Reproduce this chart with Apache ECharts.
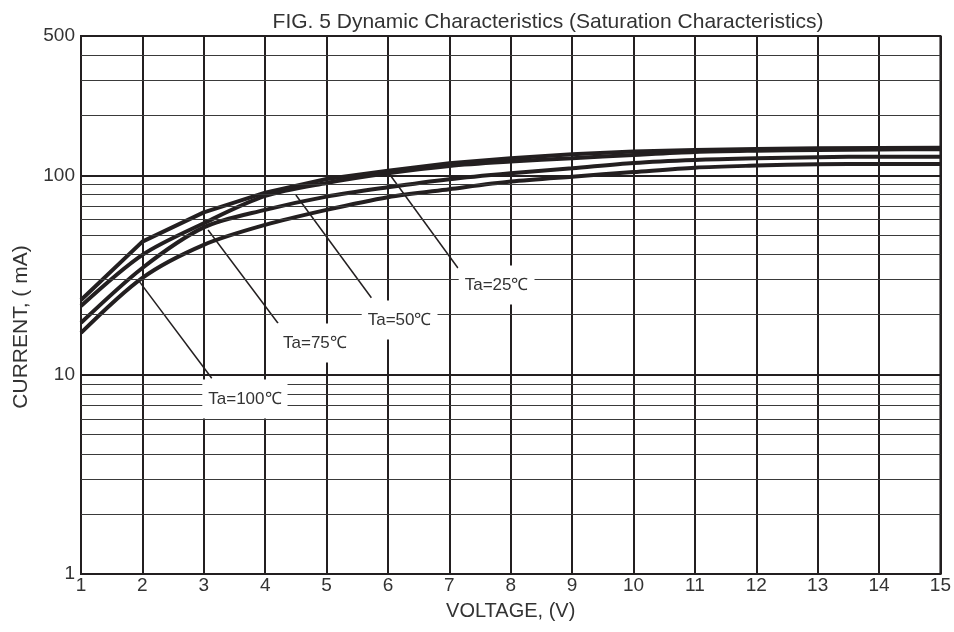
<!DOCTYPE html>
<html>
<head>
<meta charset="utf-8">
<script src="https://cdn.jsdelivr.net/npm/echarts@6/dist/echarts.min.js"></script>
<style>
html,body{margin:0;padding:0;background:#fff;}
#chart{width:954px;height:632px;}
</style>
</head>
<body>
<div id="chart"></div>
<script>
// ---- data ----
var voltage = [1,2,3,4,5,6,7,8,9,10,11,12,13,14,15];
var ta25  = [23.7,46.5,65.2,81.9,95.9,105.6,115.0,121.8,127.6,131.8,134.1,135.7,136.8,137.2,137.5];
var ta50  = [22.1,39.9,57.5,78.8,91.6,102.4,111.5,117.2,121.8,126.6,131.1,133.0,134.1,134.9,135.2];
var ta75  = [18.2,34.3,54.8,67.1,78.2,87.1,95.6,102.4,108.5,115.4,119.5,121.8,123.3,124.0,124.0];
var ta100 = [16.2,30.6,44.8,56.4,67.1,77.7,85.2,93.0,98.5,103.8,109.3,111.9,113.7,114.1,114.1];
var yTickLabels = [1,10,100,500];
var minorGrid = [2,3,4,5,6,7,8,9,20,30,40,50,60,70,80,90,200,300,400];
var majorGrid = [10,100];
var curveNames = ['Ta=25℃','Ta=50℃','Ta=75℃','Ta=100℃'];
var curveSmooth = [0, 0.3, 0.3, 0.3];
// label anchor [V, mA] and leader lines [[V1,mA1],[V2,mA2]]
var labelPos = [[7.77,28.2],[6.19,18.8],[4.81,14.4],[3.67,7.55]];
var leaders = [
  [[6.0,104],[7.14,34.3]],
  [[4.5,79.7],[5.73,24.3]],
  [[3.07,53.2],[4.21,18.1]],
  [[1.93,29.9],[3.13,9.59]]
];

var FONT = 'Liberation Sans, Arial, Helvetica, sans-serif';
var INK = '#231f20';

function pairs(ys){ return voltage.map(function(v,i){ return [v, ys[i]]; }); }

var series = [];
// gridlines (horizontal) through the y scale
series.push({
  type:'line', data:[], silent:true, z:1,
  markLine:{
    silent:true, symbol:['none','none'], animation:false,
    label:{show:false},
    data: minorGrid.map(function(v){ return {yAxis:v, lineStyle:{color:'#3a3a3a', width:1, type:'solid'}}; })
      .concat(majorGrid.map(function(v){ return {yAxis:v, lineStyle:{color:INK, width:2, type:'solid'}}; }))
  }
});
// leader lines
leaders.forEach(function(l){
  series.push({type:'line', data:l, symbol:'none', silent:true, z:3,
    lineStyle:{color:INK, width:1.5}, animation:false});
});
// curves
[ta25,ta50,ta75,ta100].forEach(function(d,i){
  series.push({name:curveNames[i], type:'line', data:pairs(d), symbol:'none', z:4,
    smooth:curveSmooth[i],
    lineStyle:{color:INK, width:4}, animation:false});
});
// labels
series.push({
  type:'scatter', z:6, symbolSize:0, itemStyle:{color:INK, opacity:1}, animation:false, silent:true,
  emphasis:{disabled:true},
  data: labelPos.map(function(p,i){ return {value:p, name:curveNames[i]}; }),
  label:{show:true, position:'inside', formatter:'{b}', color:'#333', fontFamily:FONT, fontSize:17,
    backgroundColor:'#ffffff', opacity:1, padding:[11,6]}
});

var chart = echarts.init(document.getElementById('chart'), null, {renderer:'canvas'});
chart.setOption({
  animation:false,
  backgroundColor:'#fff',
  title:{
    text:'FIG. 5 Dynamic Characteristics (Saturation Characteristics)',
    left:543, top:7, textAlign:'center',
    textStyle:{fontFamily:FONT, fontSize:21, fontWeight:'normal', color:'#333'}
  },
  grid:{left:81, right:13, top:36, bottom:58, show:true, borderColor:INK, borderWidth:2, backgroundColor:'transparent'},
  xAxis:{
    type:'value', min:1, max:15, interval:1,
    name:'VOLTAGE, (V)', nameLocation:'middle', nameGap:27,
    nameTextStyle:{fontFamily:FONT, fontSize:20, color:'#333'},
    axisLine:{show:true, lineStyle:{color:INK, width:2}},
    axisTick:{show:false},
    axisLabel:{fontFamily:FONT, fontSize:19, color:'#333', margin:2},
    splitLine:{show:true, lineStyle:{color:INK, width:2}}
  },
  yAxis:{
    type:'log', logBase:10, min:1, max:500,
    axisLine:{show:true, lineStyle:{color:INK, width:2}},
    axisTick:{show:false},
    axisLabel:{customValues:yTickLabels, fontFamily:FONT, fontSize:19, color:'#333', margin:6},
    splitLine:{show:false}
  },
  graphic:[{
    type:'text', x:21, y:327, rotation:Math.PI/2,
    style:{text:'CURRENT, ( mA)', fontFamily:FONT, fontSize:21, fill:'#333', align:'center', verticalAlign:'middle'}
  }],
  series:series
});
</script>
</body>
</html>
